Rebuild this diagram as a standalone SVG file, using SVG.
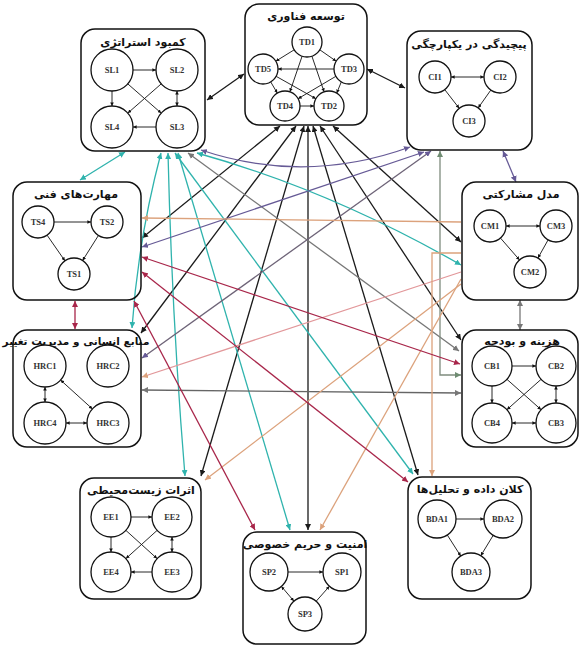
<svg xmlns="http://www.w3.org/2000/svg" width="581" height="651" viewBox="0 0 581 651">
<defs>
<style>
.box{fill:none;stroke:#111;stroke-width:1.5}
.nd{fill:#fff;stroke:#111;stroke-width:1.3}
.nl{font-family:"Liberation Serif",serif;font-size:8.5px;font-weight:bold;fill:#333;text-anchor:middle}
.tt{font-family:"DejaVu Sans","Noto Sans",sans-serif;font-size:11px;font-weight:bold;fill:#111;text-anchor:middle}
.ie{stroke:#111;stroke-width:0.9;fill:none}
.c{fill:none;stroke-width:1.3}
.k{stroke:#1a1a1a}
.t{stroke:#2fb3ad}
.o{stroke:#dca27c}
.r{stroke:#a8264a}
.p{stroke:#665a96}
.g{stroke:#777}
.gg{stroke:#7f8c7e}
</style>
<marker id="ai" viewBox="0 0 6 6" refX="6" refY="3" markerWidth="4" markerHeight="4" orient="auto-start-reverse"><path d="M0,0L6,3L0,6z" fill="#111"/></marker>
<marker id="ak" viewBox="0 0 6 6" refX="6" refY="3" markerWidth="6" markerHeight="6" markerUnits="userSpaceOnUse" orient="auto-start-reverse"><path d="M0,0L6,3L0,6z" fill="#1a1a1a"/></marker>
<marker id="at" viewBox="0 0 6 6" refX="6" refY="3" markerWidth="6" markerHeight="6" markerUnits="userSpaceOnUse" orient="auto-start-reverse"><path d="M0,0L6,3L0,6z" fill="#2fb3ad"/></marker>
<marker id="ao" viewBox="0 0 6 6" refX="6" refY="3" markerWidth="6" markerHeight="6" markerUnits="userSpaceOnUse" orient="auto-start-reverse"><path d="M0,0L6,3L0,6z" fill="#dca27c"/></marker>
<marker id="ar" viewBox="0 0 6 6" refX="6" refY="3" markerWidth="6" markerHeight="6" markerUnits="userSpaceOnUse" orient="auto-start-reverse"><path d="M0,0L6,3L0,6z" fill="#a8264a"/></marker>
<marker id="ap" viewBox="0 0 6 6" refX="6" refY="3" markerWidth="6" markerHeight="6" markerUnits="userSpaceOnUse" orient="auto-start-reverse"><path d="M0,0L6,3L0,6z" fill="#665a96"/></marker>
<marker id="ag" viewBox="0 0 6 6" refX="6" refY="3" markerWidth="6" markerHeight="6" markerUnits="userSpaceOnUse" orient="auto-start-reverse"><path d="M0,0L6,3L0,6z" fill="#777"/></marker>
<marker id="agg" viewBox="0 0 6 6" refX="6" refY="3" markerWidth="6" markerHeight="6" markerUnits="userSpaceOnUse" orient="auto-start-reverse"><path d="M0,0L6,3L0,6z" fill="#6f8c72"/></marker>
</defs>
<rect width="581" height="651" fill="#fff"/>

<g id="connectors">
<!-- black -->
<path class="c k" d="M207,100 L244,74" marker-start="url(#ak)" marker-end="url(#ak)"/>
<path class="c k" d="M367,69 L405,88" marker-start="url(#ak)" marker-end="url(#ak)"/>
<path class="c k" d="M280,126 L142,238" marker-start="url(#ak)" marker-end="url(#ak)"/>
<path class="c k" d="M296,126 L141,333" marker-start="url(#ak)" marker-end="url(#ak)"/>
<path class="c k" d="M304,126 L201,476" marker-start="url(#ak)" marker-end="url(#ak)"/>
<path class="c k" d="M308,126 L308,530" marker-start="url(#ak)" marker-end="url(#ak)"/>
<path class="c k" d="M313,126 L418,475" marker-start="url(#ak)" marker-end="url(#ak)"/>
<path class="c k" d="M320,126 L461,340" marker-start="url(#ak)" marker-end="url(#ak)"/>
<path class="c k" d="M333,126 L461,242" marker-start="url(#ak)" marker-end="url(#ak)"/>
<!-- teal -->
<path class="c t" d="M125,152 L80,180" marker-start="url(#at)" marker-end="url(#at)"/>
<path class="c t" d="M161,153 Q138,240 132,328" marker-start="url(#at)" marker-end="url(#at)"/>
<path class="c t" d="M168,153 Q172,320 185,476" marker-start="url(#at)" marker-end="url(#at)"/>
<path class="c t" d="M178,153 L290,530" marker-start="url(#at)" marker-end="url(#at)"/>
<path class="c t" d="M175,153 L413,474" marker-start="url(#at)" marker-end="url(#at)"/>
<path class="c t" d="M197,153 Q330,190 461,265" marker-start="url(#at)" marker-end="url(#at)"/>
<!-- olive gray -->
<path class="c g" d="M188,153 L459,351" marker-start="url(#ag)" marker-end="url(#ag)"/>
<!-- purple -->
<path class="c p" d="M201,150 Q305,185 410,147" marker-start="url(#ap)" marker-end="url(#ap)"/>
<path class="c p" d="M424,152 L142,247" marker-start="url(#ap)" marker-end="url(#ap)"/>
<path class="c p" d="M431,151 L142,358" style="stroke:#6e6478" marker-start="url(#ap)" marker-end="url(#ap)"/>
<path class="c p" d="M503,151 L516,182" marker-start="url(#ap)" marker-end="url(#ap)"/>
<!-- grays -->
<path class="c gg" d="M440,151 L440,375 L461,375" marker-start="url(#agg)" marker-end="url(#agg)"/>
<path class="c g" d="M142,390 L461,393" style="stroke:#666" marker-start="url(#ag)" marker-end="url(#ag)"/>
<path class="c g" d="M520,300 L520,330" marker-start="url(#ag)" marker-end="url(#ag)"/>
<!-- orange -->
<path class="c o" d="M461,222 L142,218" marker-end="url(#ao)"/>
<path class="c o" d="M461,272 L142,377" style="stroke:#e2979a" marker-end="url(#ao)"/>
<path class="c o" d="M461,284 L205,480" marker-end="url(#ao)"/>
<path class="c o" d="M461,279 L320,530" marker-end="url(#ao)"/>
<path class="c o" d="M461,253 L432,253 L432,476" marker-end="url(#ao)"/>
<!-- red -->
<path class="c r" d="M75,301 L75,329" marker-start="url(#ar)" marker-end="url(#ar)"/>
<path class="c r" d="M142,257 L460,364" marker-start="url(#ar)" marker-end="url(#ar)"/>
<path class="c r" d="M142,272 L408,482" marker-start="url(#ar)" marker-end="url(#ar)"/>
<path class="c r" d="M134,301 L255,530" marker-start="url(#ar)" marker-end="url(#ar)"/>
</g>

<g id="strategy">
<rect class="box" x="81" y="29" width="124" height="122" rx="14"/>
<text class="tt" x="143" y="46" direction="rtl">کمبود استراتژی</text>
<line class="ie" x1="133" y1="70" x2="156" y2="70" marker-end="url(#ai)"/>
<line class="ie" x1="112" y1="91" x2="112" y2="106" marker-end="url(#ai)"/>
<line class="ie" x1="127.8" y1="83.9" x2="161.2" y2="113.1" marker-end="url(#ai)"/>
<line class="ie" x1="161.2" y1="83.9" x2="127.8" y2="113.1" marker-end="url(#ai)"/>
<line class="ie" x1="156" y1="127" x2="133" y2="127" marker-end="url(#ai)"/>
<line class="ie" x1="177" y1="91" x2="177" y2="106" marker-start="url(#ai)" marker-end="url(#ai)"/>
<circle class="nd" cx="112" cy="70" r="21"/><text class="nl" x="112" y="73">SL1</text>
<circle class="nd" cx="177" cy="70" r="21"/><text class="nl" x="177" y="73">SL2</text>
<circle class="nd" cx="112" cy="127" r="21"/><text class="nl" x="112" y="130">SL4</text>
<circle class="nd" cx="177" cy="127" r="21"/><text class="nl" x="177" y="130">SL3</text>
</g>

<g id="technology">
<rect class="box" x="245" y="4" width="122" height="121" rx="14"/>
<text class="tt" x="306" y="20" direction="rtl">توسعه فناوری</text>
<line class="ie" x1="294.2" y1="49.8" x2="275.8" y2="61.2" marker-end="url(#ai)"/>
<line class="ie" x1="319.8" y1="49.8" x2="336.2" y2="61.2" marker-end="url(#ai)"/>
<line class="ie" x1="334" y1="69" x2="278" y2="69" marker-end="url(#ai)"/>
<line class="ie" x1="302.1" y1="56.2" x2="289.9" y2="91.8" marker-end="url(#ai)"/>
<line class="ie" x1="311.9" y1="56.2" x2="324.1" y2="91.8" marker-end="url(#ai)"/>
<line class="ie" x1="270.7" y1="81.9" x2="277.3" y2="93.1" marker-end="url(#ai)"/>
<line class="ie" x1="341.3" y1="81.9" x2="336.7" y2="93.1" marker-end="url(#ai)"/>
<line class="ie" x1="276.1" y1="76.3" x2="315.9" y2="98.7" marker-end="url(#ai)"/>
<line class="ie" x1="335.9" y1="76.3" x2="298.1" y2="98.7" marker-end="url(#ai)"/>
<line class="ie" x1="300" y1="106" x2="314" y2="106" marker-end="url(#ai)"/>
<circle class="nd" cx="307" cy="42" r="15"/><text class="nl" x="307" y="45">TD1</text>
<circle class="nd" cx="263" cy="69" r="15"/><text class="nl" x="263" y="72">TD5</text>
<circle class="nd" cx="349" cy="69" r="15"/><text class="nl" x="349" y="72">TD3</text>
<circle class="nd" cx="285" cy="106" r="15"/><text class="nl" x="285" y="109">TD4</text>
<circle class="nd" cx="329" cy="106" r="15"/><text class="nl" x="329" y="109">TD2</text>
</g>

<g id="complexity">
<rect class="box" x="407" y="31" width="125" height="119" rx="14"/>
<text class="tt" x="469" y="48" direction="rtl">پیچیدگی در یکپارچگی</text>
<line class="ie" x1="451" y1="77" x2="484" y2="77" marker-start="url(#ai)" marker-end="url(#ai)"/>
<line class="ie" x1="444.8" y1="89.7" x2="459.2" y2="108.3" marker-end="url(#ai)"/>
<line class="ie" x1="490.8" y1="90.1" x2="478.2" y2="107.9" marker-end="url(#ai)"/>
<circle class="nd" cx="435" cy="77" r="16"/><text class="nl" x="435" y="80">CI1</text>
<circle class="nd" cx="500" cy="77" r="16"/><text class="nl" x="500" y="80">CI2</text>
<circle class="nd" cx="469" cy="121" r="16"/><text class="nl" x="469" y="124">CI3</text>
</g>

<g id="skills">
<rect class="box" x="13" y="182" width="128" height="118" rx="14"/>
<text class="tt" x="76" y="198" direction="rtl">مهارت‌های فنی</text>
<line class="ie" x1="54" y1="222" x2="91" y2="222" marker-end="url(#ai)"/>
<line class="ie" x1="47.1" y1="235.2" x2="64.9" y2="260.8" marker-end="url(#ai)"/>
<line class="ie" x1="98.4" y1="235.5" x2="82.6" y2="260.5" marker-end="url(#ai)"/>
<circle class="nd" cx="38" cy="222" r="16"/><text class="nl" x="38" y="225">TS4</text>
<circle class="nd" cx="107" cy="222" r="16"/><text class="nl" x="107" y="225">TS2</text>
<circle class="nd" cx="74" cy="274" r="16"/><text class="nl" x="74" y="277">TS1</text>
</g>

<g id="participation">
<rect class="box" x="462" y="182" width="116" height="118" rx="14"/>
<text class="tt" x="521" y="198" direction="rtl">مدل مشارکتی</text>
<line class="ie" x1="506" y1="226" x2="540" y2="226" marker-start="url(#ai)" marker-end="url(#ai)"/>
<line class="ie" x1="500.5" y1="238.1" x2="519.5" y2="259.9" marker-end="url(#ai)"/>
<line class="ie" x1="548.1" y1="239.9" x2="537.9" y2="258.1" marker-end="url(#ai)"/>
<circle class="nd" cx="490" cy="226" r="16"/><text class="nl" x="490" y="229">CM1</text>
<circle class="nd" cx="556" cy="226" r="16"/><text class="nl" x="556" y="229">CM3</text>
<circle class="nd" cx="530" cy="272" r="16"/><text class="nl" x="530" y="275">CM2</text>
</g>

<g id="human-resources">
<rect class="box" x="13" y="330" width="128" height="117" rx="14"/>
<text class="tt" x="76" y="345" direction="rtl" style="font-size:10.5px">منابع انسانی و مدیریت تغییر</text>
<line class="ie" x1="45" y1="387" x2="45" y2="402" marker-start="url(#ai)" marker-end="url(#ai)"/>
<line class="ie" x1="60.6" y1="380.1" x2="92.4" y2="408.9" marker-start="url(#ai)" marker-end="url(#ai)"/>
<line class="ie" x1="66" y1="423" x2="87" y2="423" marker-start="url(#ai)" marker-end="url(#ai)"/>
<circle class="nd" cx="45" cy="366" r="21"/><text class="nl" x="45" y="369">HRC1</text>
<circle class="nd" cx="108" cy="366" r="21"/><text class="nl" x="108" y="369">HRC2</text>
<circle class="nd" cx="45" cy="423" r="21"/><text class="nl" x="45" y="426">HRC4</text>
<circle class="nd" cx="108" cy="423" r="21"/><text class="nl" x="108" y="426">HRC3</text>
</g>

<g id="cost-budget">
<rect class="box" x="462" y="330" width="116" height="117" rx="14"/>
<text class="tt" x="522" y="345" direction="rtl">هزینه و بودجه</text>
<line class="ie" x1="512" y1="366" x2="536" y2="366" marker-end="url(#ai)"/>
<line class="ie" x1="492" y1="386" x2="492" y2="403" marker-end="url(#ai)"/>
<line class="ie" x1="506.9" y1="379.3" x2="541.1" y2="409.7" marker-end="url(#ai)"/>
<line class="ie" x1="541.1" y1="379.3" x2="506.9" y2="409.7" marker-end="url(#ai)"/>
<line class="ie" x1="512" y1="423" x2="536" y2="423" marker-start="url(#ai)" marker-end="url(#ai)"/>
<line class="ie" x1="556" y1="386" x2="556" y2="403" marker-start="url(#ai)" marker-end="url(#ai)"/>
<circle class="nd" cx="492" cy="366" r="20"/><text class="nl" x="492" y="369">CB1</text>
<circle class="nd" cx="556" cy="366" r="20"/><text class="nl" x="556" y="369">CB2</text>
<circle class="nd" cx="492" cy="423" r="20"/><text class="nl" x="492" y="426">CB4</text>
<circle class="nd" cx="556" cy="423" r="20"/><text class="nl" x="556" y="426">CB3</text>
</g>

<g id="environment">
<rect class="box" x="80" y="478" width="121" height="121" rx="14"/>
<text class="tt" x="141" y="494" direction="rtl">اثرات زیست‌محیطی</text>
<line class="ie" x1="131" y1="517" x2="152" y2="517" marker-end="url(#ai)"/>
<line class="ie" x1="111" y1="537" x2="111" y2="552" marker-end="url(#ai)"/>
<line class="ie" x1="125.9" y1="530.4" x2="157.1" y2="558.6" marker-end="url(#ai)"/>
<line class="ie" x1="157.1" y1="530.4" x2="125.9" y2="558.6" marker-end="url(#ai)"/>
<line class="ie" x1="152" y1="572" x2="131" y2="572" marker-end="url(#ai)"/>
<line class="ie" x1="172" y1="537" x2="172" y2="552" marker-start="url(#ai)" marker-end="url(#ai)"/>
<circle class="nd" cx="111" cy="517" r="20"/><text class="nl" x="111" y="520">EE1</text>
<circle class="nd" cx="172" cy="517" r="20"/><text class="nl" x="172" y="520">EE2</text>
<circle class="nd" cx="111" cy="572" r="20"/><text class="nl" x="111" y="575">EE4</text>
<circle class="nd" cx="172" cy="572" r="20"/><text class="nl" x="172" y="575">EE3</text>
</g>

<g id="security">
<rect class="box" x="243" y="532" width="123" height="112" rx="14"/>
<text class="tt" x="305" y="548" direction="rtl">امنیت و حریم خصوصی</text>
<line class="ie" x1="288" y1="572" x2="323" y2="572" marker-end="url(#ai)"/>
<line class="ie" x1="281.4" y1="586.4" x2="293.9" y2="601.1" marker-start="url(#ai)" marker-end="url(#ai)"/>
<line class="ie" x1="316.2" y1="601.2" x2="329.4" y2="586.3" marker-end="url(#ai)"/>
<circle class="nd" cx="269" cy="572" r="19"/><text class="nl" x="269" y="575">SP2</text>
<circle class="nd" cx="342" cy="572" r="19"/><text class="nl" x="342" y="575">SP1</text>
<circle class="nd" cx="305" cy="614" r="17"/><text class="nl" x="305" y="617">SP3</text>
</g>

<g id="big-data">
<rect class="box" x="408" y="477" width="123" height="122" rx="14"/>
<text class="tt" x="470" y="493" direction="rtl">کلان داده و تحلیل‌ها</text>
<line class="ie" x1="456" y1="519" x2="484" y2="519" marker-end="url(#ai)"/>
<line class="ie" x1="447.3" y1="535" x2="460.7" y2="556" marker-end="url(#ai)"/>
<line class="ie" x1="493.2" y1="535.3" x2="480.8" y2="555.7" marker-end="url(#ai)"/>
<circle class="nd" cx="437" cy="519" r="19"/><text class="nl" x="437" y="522">BDA1</text>
<circle class="nd" cx="503" cy="519" r="19"/><text class="nl" x="503" y="522">BDA2</text>
<circle class="nd" cx="471" cy="572" r="19"/><text class="nl" x="471" y="575">BDA3</text>
</g>
</svg>
